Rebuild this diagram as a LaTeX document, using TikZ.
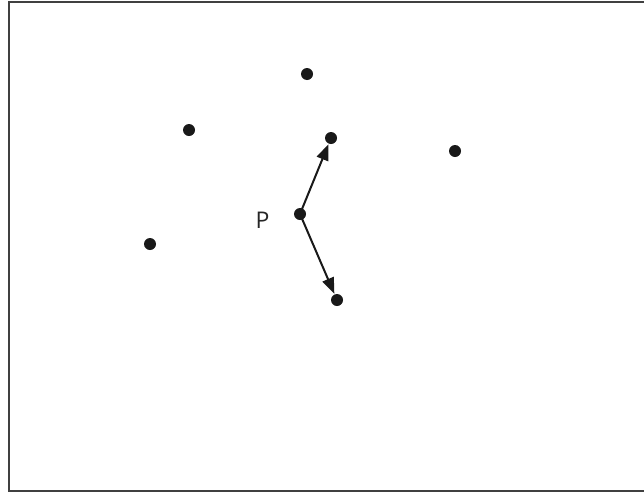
\documentclass[tikz,border=0pt]{standalone}
\usepackage{fontspec}
\setmainfont{Open Sans}
\usetikzlibrary{arrows.meta}
\begin{document}
\begin{tikzpicture}[x=1pt,y=-1pt,
  dot/.style={circle,fill=black!90,inner sep=0pt,minimum size=12pt},
  vec/.style={line width=2pt,draw=black!90,-{Triangle[length=16pt,width=12pt]},shorten >=0.5pt},
  lbl/.style={font=\fontsize{23}{25}\selectfont,text=black!85,inner sep=0pt}]
\useasboundingbox (0,0) rectangle (644,493);
\draw[line width=2.4pt,draw=black!75] (8.8,1.8) rectangle (648,490.8);
\node[dot] (a) at (307,74) {};
\node[dot] (b) at (189,130) {};
\node[dot] (c) at (331,138) {};
\node[dot] (d) at (455,151) {};
\node[dot] (p) at (300,214) {};
\node[dot] (e) at (150,244) {};
\node[dot] (f) at (337,300) {};
\node[lbl,anchor=base] (pl) at (262.5,228) {P};
\draw[vec] (p.center) -- (c);
\draw[vec] (p.center) -- (f);
\end{tikzpicture}
\end{document}
